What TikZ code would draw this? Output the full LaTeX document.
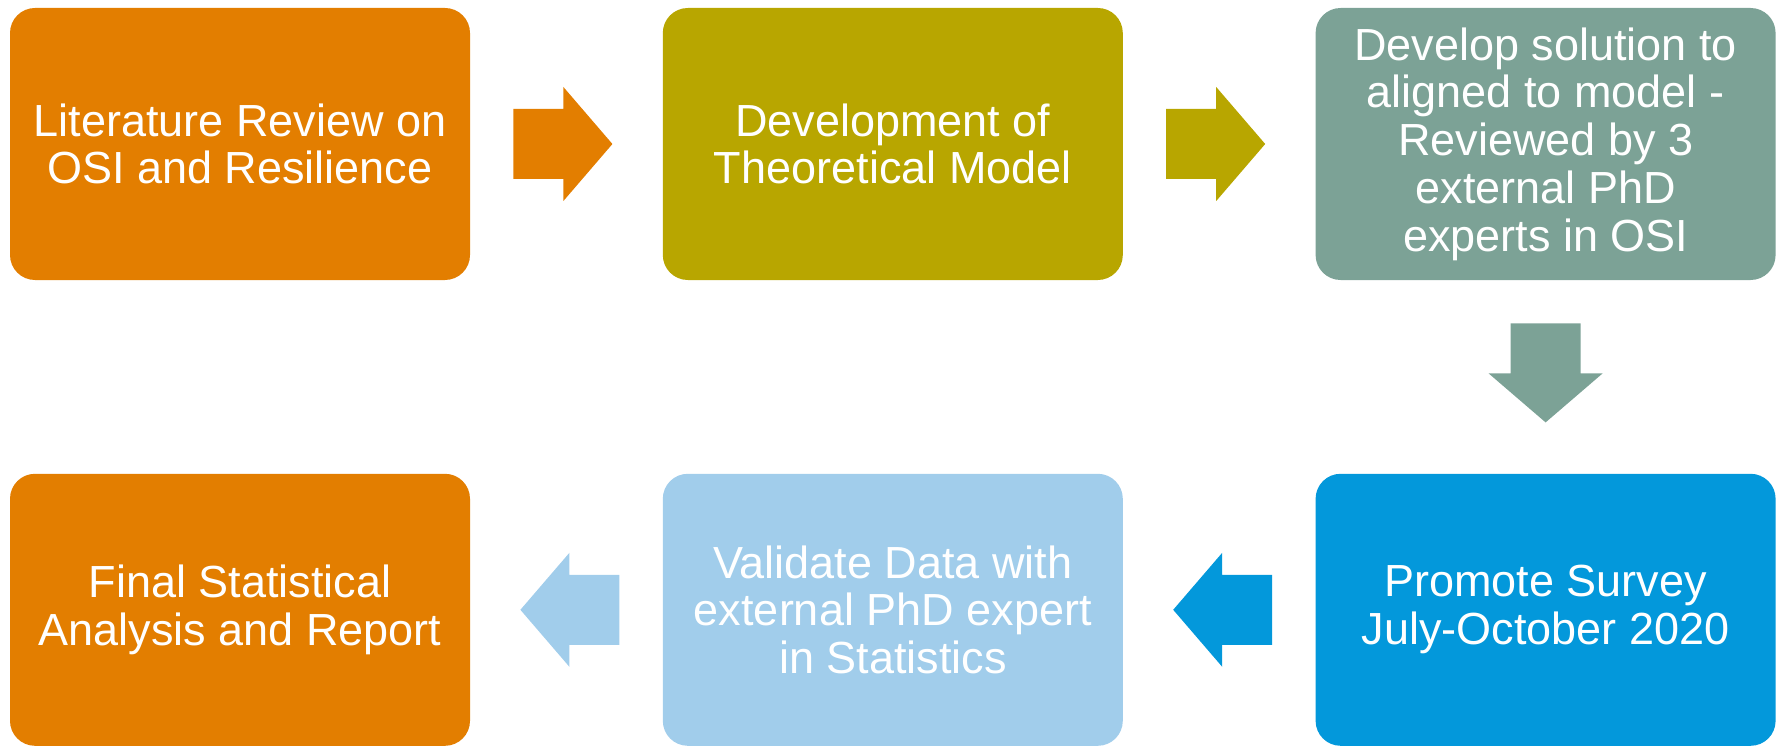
\documentclass[tikz,border=0pt]{standalone}
\usepackage{fontspec}
\setmainfont{Liberation Sans}
\usetikzlibrary{positioning}

\definecolor{orng}{HTML}{E37E00}
\definecolor{olive}{HTML}{B8A600}
\definecolor{sage}{HTML}{7CA296}
\definecolor{sky}{HTML}{0398DB}
\definecolor{pale}{HTML}{A1CDEB}

\tikzset{
    stepbox/.style = {fill = #1, rounded corners = 12.5pt, minimum width = 230pt, minimum height = 136pt,
        inner sep = 0pt, text = white, align = center, font = \fontsize{22.5pt}{23.9pt}\selectfont},
    node distance = 96pt
}

\begin{document}
\begin{tikzpicture}
    \useasboundingbox (0,0) rectangle (891.5pt,373pt);
    % Верхний ряд: слева направо
    \node [stepbox = orng] (lit) at (120pt,301pt) {Literature Review on\\OSI and Resilience};
    \node [stepbox = olive, right = of lit] (model) {Development of\\Theoretical Model};
    \node [stepbox = sage, right = of model] (solution) {Develop solution to\\aligned to model -\\Reviewed by 3\\external PhD\\experts in OSI};
    % Нижний ряд: справа налево
    \node [stepbox = sky, below = 96.5pt of solution] (survey) {Promote Survey\\July-October 2020};
    \node [stepbox = pale, left = of survey] (validate) {Validate Data with\\external PhD expert\\in Statistics};
    \node [stepbox = orng, left = of validate] (report) {Final Statistical\\Analysis and Report};
    \foreach \a/\d/\c in {lit.east/0/orng, model.east/0/olive, solution.south/-90/sage,
                          survey.west/180/sky, validate.west/180/pale} {
        % \a - край блока, \d - направление стрелки, \c - её цвет
        \fill [\c, shift = {(\a)}, rotate = \d]
            (21.5pt,-17.5pt) -- (46.5pt,-17.5pt) -- (46.5pt,-28.5pt) -- (71pt,0pt)
            -- (46.5pt,28.5pt) -- (46.5pt,17.5pt) -- (21.5pt,17.5pt) -- cycle;
    }
\end{tikzpicture}
\end{document}
